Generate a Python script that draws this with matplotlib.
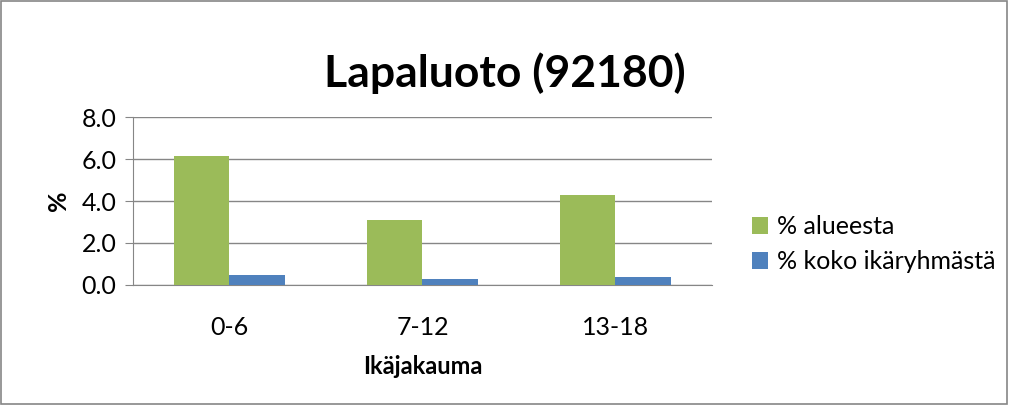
import matplotlib.pyplot as plt
import numpy as np
from matplotlib.patches import Rectangle

plt.rcParams['font.family'] = ['Lato', 'DejaVu Sans']

categories = ['0-6', '7-12', '13-18']
alueesta = [6.15, 3.08, 4.30]
koko_ikaryhmasta = [0.46, 0.27, 0.38]
series_names = ['% alueesta', '% koko ikäryhmästä']

fig = plt.figure(figsize=(10.09, 4.05), dpi=100)
ax = fig.add_axes([0.1318, 0.2963, 0.5738, 0.4148])

x = np.arange(len(categories))
w = 1 / 3.5
ax.bar(x - w / 2, alueesta, w, color='#9BBB59', label=series_names[0], zorder=3)
ax.bar(x + w / 2, koko_ikaryhmasta, w, color='#4F81BD', label=series_names[1], zorder=3)

ax.set_xlim(-0.5, 2.5)
ax.set_ylim(0, 8)
ax.set_yticks(np.arange(0, 8.1, 2))
ax.set_yticklabels([f'{v:.1f}' for v in np.arange(0, 8.1, 2)])
ax.set_xticks(x)
ax.set_xticklabels(categories)
ax.grid(axis='y', color='#868686', linewidth=1, zorder=0)
for s in ['top', 'right']:
    ax.spines[s].set_visible(False)
for s in ['left', 'bottom']:
    ax.spines[s].set_color('#868686')
ax.tick_params(axis='y', colors='#868686', labelcolor='black', length=6, labelsize=18, pad=6)
ax.tick_params(axis='x', length=0, labelsize=18, pad=22)

ax.set_xlabel('Ikäjakauma', fontsize=17, fontweight='bold', labelpad=12)
ax.set_ylabel('%', fontsize=18, fontweight='bold', labelpad=8)

fig.text(0.5, 0.82, 'Lapaluoto (92180)', ha='center', va='center', fontsize=32, fontweight='bold')

fig.legend(loc='center left', bbox_to_anchor=(0.745, 0.397), frameon=False, fontsize=18,
           handlelength=0.65, handleheight=0.65, handletextpad=0.35, labelspacing=0.5,
           borderpad=0, borderaxespad=0)

fig.patches.append(Rectangle((0.001, 0.002), 0.997, 0.996, transform=fig.transFigure,
                             fill=False, edgecolor='#868686', linewidth=1.2))

fig.savefig('out.png', dpi=100)
